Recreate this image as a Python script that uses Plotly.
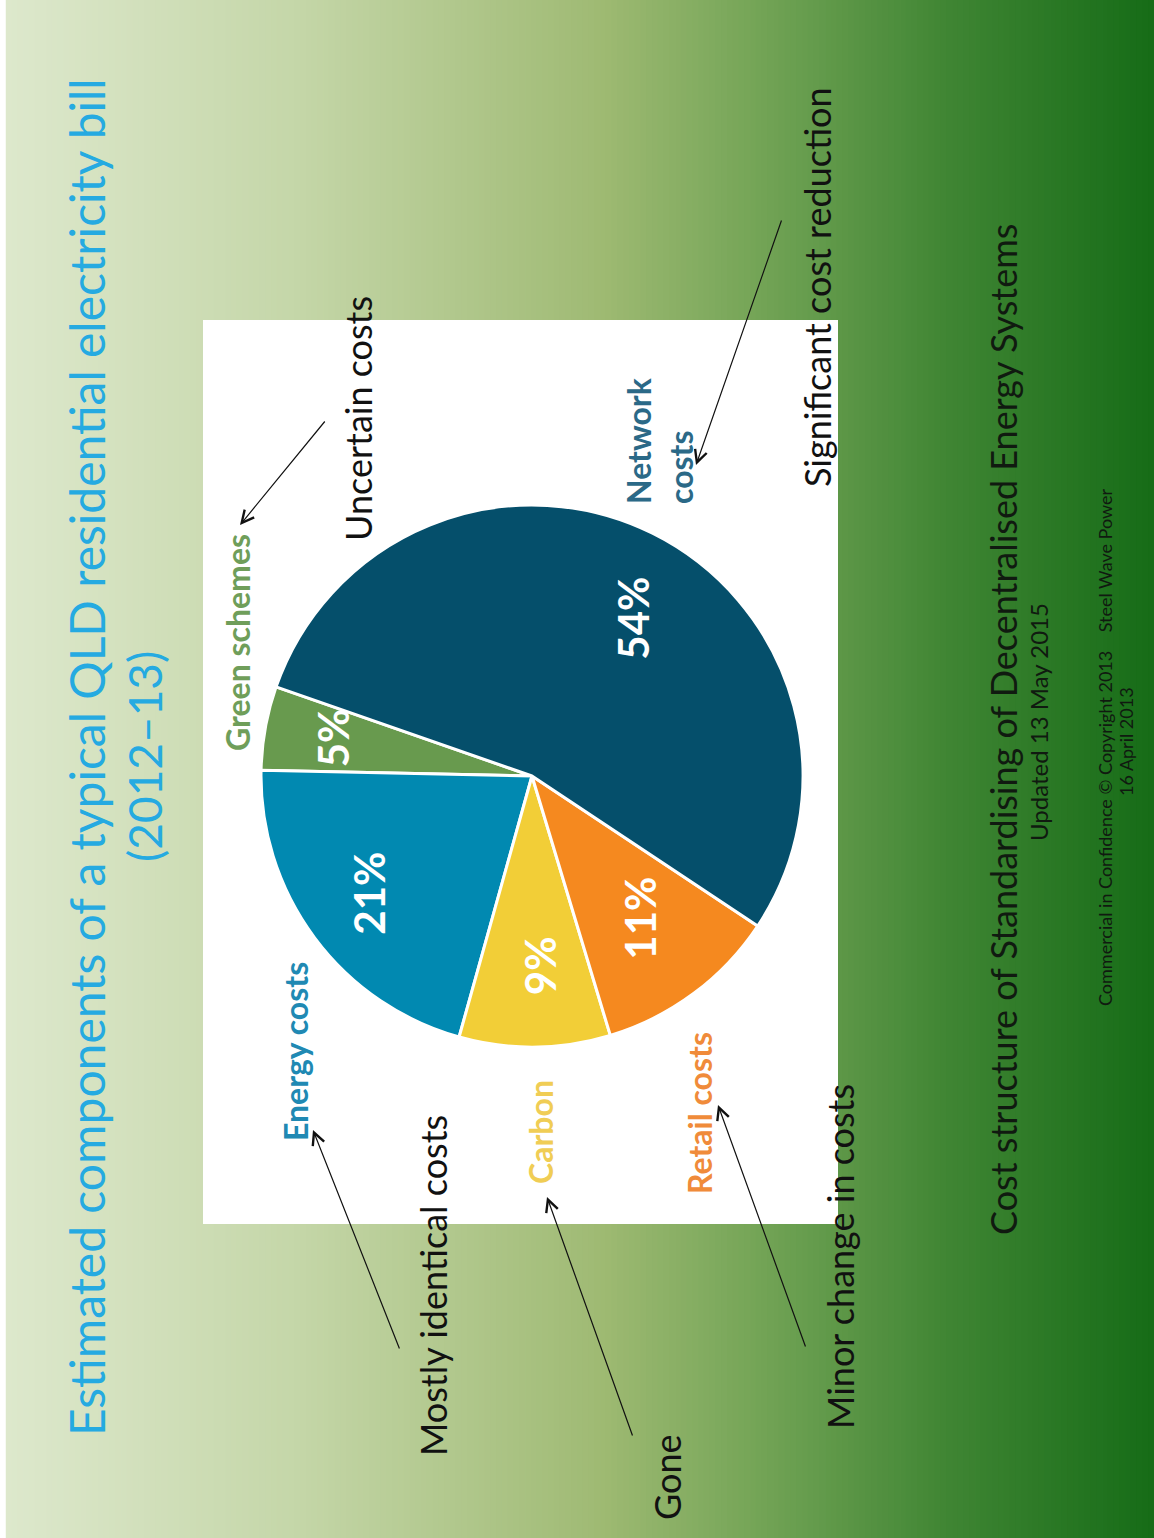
import math
import plotly.graph_objects as go

# ---------------- data ----------------
categories = ["Green schemes", "Energy costs", "Carbon", "Retail costs", "Network costs"]
shares = [5, 21, 9, 11, 54]
slice_colors = ["#689a4e", "#0189b1", "#f2ce37", "#f5891f", "#054f6b"]
label_lines = ["Green schemes", "Energy costs", "Carbon", "Retail costs", "Network<br>costs"]
label_colors = ["#6f9e5a", "#2089b3", "#f0cd55", "#f08b3a", "#2b6987"]
comments = ["Uncertain costs", "Mostly identical costs", "Gone",
            "Minor change in costs", "Significant cost reduction"]
title_1 = "Estimated components of a typical QLD residential electricity bill"
title_2 = "(2012\u201313)"
subtitle = "Cost structure of Standardising of Decentralised Energy Systems"
updated = "Updated 13 May 2015"
footer_1 = "Commercial in Confidence \u00a9 Copyright 2013 \u00a0\u00a0\u00a0Steel Wave Power"
footer_2 = "16 April 2013"

# ---------------- layout constants (pixels) ----------------
W, H = 1154, 1538
CX, CY, R = 532, 776, 271          # pie centre and radius
START = 160.8                       # angle (deg, math) where first slice begins
FONT = "Lato"
pct_r = [0.745, 0.74, 0.70, 0.66, 0.69]     # radial placement of % labels (fraction of R)
pct_dtheta = [-0.8, -0.8, 1.7, 0.7, -6.3]    # small angular nudges (deg)

fig = go.Figure()

# invisible pixel axes
fig.update_xaxes(range=[0, W], visible=False, fixedrange=True)
fig.update_yaxes(range=[H, 0], visible=False, fixedrange=True)

# background gradient (left light -> right dark green)
stops = [(0, (0xff, 0xff, 0xff)), (7, (0xff, 0xff, 0xff)), (8, (0xdd, 0xe8, 0xcc)),
         (300, (0xc4, 0xd6, 0xa8)), (600, (0x9f, 0xba, 0x73)), (760, (0x73, 0xa4, 0x56)),
         (950, (0x3f, 0x85, 0x33)), (1154, (0x16, 0x6c, 0x17))]


def grad(x):
    for (x0, c0), (x1, c1) in zip(stops[:-1], stops[1:]):
        if x0 <= x <= x1:
            t = 0 if x1 == x0 else (x - x0) / (x1 - x0)
            return "rgb(%d,%d,%d)" % tuple(round(a + (b - a) * t) for a, b in zip(c0, c1))
    return "rgb(22,108,23)"


shapes = []
N = 200
step = W / N
for i in range(N):
    x0 = i * step
    shapes.append(dict(type="rect", xref="x", yref="y", x0=x0, x1=x0 + step + 0.8,
                       y0=0, y1=H, fillcolor=grad(x0 + step / 2), line=dict(width=0),
                       layer="below"))
# white chart panel
shapes.append(dict(type="rect", xref="x", yref="y", x0=203, x1=838, y0=320, y1=1224,
                   fillcolor="white", line=dict(width=0), layer="below"))

# pie
total = sum(shares)
rotation = 90 - START - 360 * shares[0] / total
fig.add_trace(go.Pie(
    labels=categories, values=shares, sort=False, direction="counterclockwise",
    rotation=rotation, textinfo="none", hoverinfo="label+percent",
    marker=dict(colors=slice_colors, line=dict(color="white", width=3)),
    domain=dict(x=[(CX - R) / W, (CX + R) / W], y=[1 - (CY + R) / H, 1 - (CY - R) / H]),
    showlegend=False))

ann = []


def txt(x, y, s, size, color="#111111", bold=False, align="center"):
    ann.append(dict(x=x, y=y, xref="x", yref="y", text=s, showarrow=False, textangle=-90,
                    xanchor="center", yanchor="middle", align=align,
                    font=dict(family=FONT, size=size, color=color,
                              weight="bold" if bold else "normal")))


# percentages inside slices, placed at slice mid-angles
cum = 0
for v, rf, dt in zip(shares, pct_r, pct_dtheta):
    mid = math.radians(START + 360 * (cum + v / 2) / total + dt)
    cum += v
    r = rf * R
    txt(CX + r * math.cos(mid), CY - r * math.sin(mid), f"{v}%", 42, "white", bold=True)

# category labels around pie
label_pos = [(237, 643), (295, 1052), (540, 1132), (699, 1113), (659, 441)]
for (x, y), s, c in zip(label_pos, label_lines, label_colors):
    txt(x, y, s, 32, c, bold=True, align="left")

# comments with arrows
comment_pos = [(358, 419), (433, 1286), (667, 1477), (840, 1257), (817, 287)]
for (x, y), s in zip(comment_pos, comments):
    txt(x, y, s, 36)

arrows = [((326, 420), (240, 525)), ((400, 1350), (313, 1130)), ((633, 1437), (547, 1197)),
          ((806, 1348), (718, 1105)), ((782, 219), (696, 465))]
for (tx, ty), (hx, hy) in arrows:
    ann.append(dict(x=hx, y=hy, ax=tx, ay=ty, xref="x", yref="y", axref="x", ayref="y",
                    text="", showarrow=True, arrowhead=5, arrowsize=2, arrowwidth=1.2,
                    arrowcolor="#111111", standoff=0, startstandoff=0))

# titles and footers
txt(86, 757, title_1, 48, "#25aae1")
txt(144, 757, title_2, 46, "#25aae1")
txt(1003, 730, subtitle, 36, "#101a10")
txt(1038, 722, updated, 24, "#101a10")
txt(1105, 748, footer_1, 18, "#101a10")
txt(1126, 742, footer_2, 18, "#101a10")

fig.update_layout(width=W, height=H, margin=dict(l=0, r=0, t=0, b=0),
                  paper_bgcolor="white", plot_bgcolor="rgba(0,0,0,0)",
                  shapes=shapes, annotations=ann, showlegend=False)

fig.write_html("out.html", config={"displayModeBar": False},
               post_script="document.body.style.margin='0';document.body.style.overflow='hidden';")
